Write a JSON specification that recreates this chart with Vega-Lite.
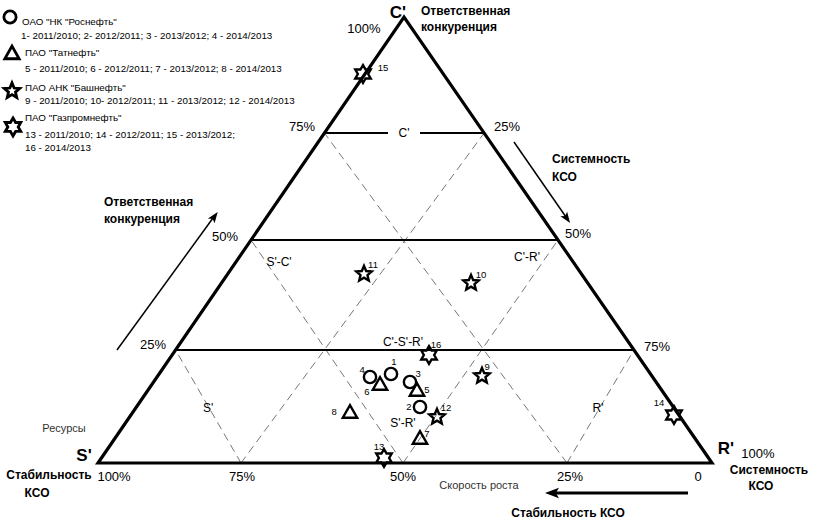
{
"$schema":"https://vega.github.io/schema/vega-lite/v6.json",
"width":817,"height":523,"autosize":{"type":"none"},"padding":0,"background":"white",
"config":{"view":{"stroke":null},"text":{"font":"Liberation Sans","color":"black"}},
"datasets":{
"tri":[{"x":0.5,"y":0,"o":0},{"x":1,"y":0,"o":1},{"x":0.4984,"y":1,"o":2},{"x":0,"y":0,"o":3},{"x":0.5,"y":0,"o":4}],
"hlines":[{"x":0.1263,"y":0.2534,"x2":0.8729,"y2":0.2534},{"x":0.2492,"y":0.5,"x2":0.7492,"y2":0.5},{"x":0.3688,"y":0.7399,"x2":0.4723,"y2":0.7399},{"x":0.5244,"y":0.7399,"x2":0.6289,"y2":0.7399}],
"dashed":[{"x":0.2329,"y":0,"x2":0.6289,"y2":0.7399},{"x":0.4967,"y":0,"x2":0.7492,"y2":0.5},{"x":0.7638,"y":0,"x2":0.8729,"y2":0.2534},{"x":0.7638,"y":0,"x2":0.3688,"y2":0.7399},{"x":0.4967,"y":0,"x2":0.2492,"y2":0.5},{"x":0.2329,"y":0,"x2":0.1263,"y2":0.2534}],
"thinArrows":[{"x":0.0309,"y":0.2534,"x2":0.1873,"y2":0.5493},{"x":0.6775,"y":0.7197,"x2":0.7622,"y2":0.5516}],
"thickArrow":[{"x":0.9609,"y":-0.0673,"x2":0.7459,"y2":-0.0673}],
"headL":[{"x":0.1897,"y":0.5527}],
"headR":[{"x":0.7637,"y":0.5482}],
"headB":[{"x":0.7394,"y":-0.0673}],
"pts":[
{"n":"1","c":"ОАО \"НК \"Роснефть\"","x":0.4772,"y":0.1996,"lx":0.4821,"ly":0.2265},
{"n":"2","c":"ОАО \"НК \"Роснефть\"","x":0.5244,"y":0.1256,"lx":0.5065,"ly":0.1256},
{"n":"3","c":"ОАО \"НК \"Роснефть\"","x":0.5081,"y":0.1816,"lx":0.5212,"ly":0.1996},
{"n":"4","c":"ОАО \"НК \"Роснефть\"","x":0.4430,"y":0.1928,"lx":0.4300,"ly":0.2085},
{"n":"5","c":"ПАО \"Татнефть\"","x":0.5195,"y":0.1637,"lx":0.5358,"ly":0.1637},
{"n":"6","c":"ПАО \"Татнефть\"","x":0.4593,"y":0.1771,"lx":0.4381,"ly":0.1592},
{"n":"7","c":"ПАО \"Татнефть\"","x":0.5244,"y":0.0561,"lx":0.5358,"ly":0.0650},
{"n":"8","c":"ПАО \"Татнефть\"","x":0.4104,"y":0.1143,"lx":0.3844,"ly":0.1143},
{"n":"9","c":"ПАО АНК \"Башнефть\"","x":0.6254,"y":0.1951,"lx":0.6336,"ly":0.2152},
{"n":"10","c":"ПАО АНК \"Башнефть\"","x":0.6075,"y":0.4036,"lx":0.6238,"ly":0.4215},
{"n":"11","c":"ПАО АНК \"Башнефть\"","x":0.4332,"y":0.4238,"lx":0.4479,"ly":0.4439},
{"n":"12","c":"ПАО АНК \"Башнефть\"","x":0.5521,"y":0.1031,"lx":0.5668,"ly":0.1233},
{"n":"13","c":"ПАО \"Газпромнефть\"","x":0.4658,"y":0.0112,"lx":0.4577,"ly":0.0359},
{"n":"14","c":"ПАО \"Газпромнефть\"","x":0.9381,"y":0.1076,"lx":0.9137,"ly":0.1345},
{"n":"15","c":"ПАО \"Газпромнефть\"","x":0.4316,"y":0.8722,"lx":0.4642,"ly":0.8857},
{"n":"16","c":"ПАО \"Газпромнефть\"","x":0.5391,"y":0.2422,"lx":0.5505,"ly":0.2646}],
"leg":[
{"c":"ОАО \"НК \"Роснефть\"","x":-0.1433,"y":1.0},
{"c":"ПАО \"Татнефть\"","x":-0.1401,"y":0.9193},
{"c":"ПАО АНК \"Башнефть\"","x":-0.1401,"y":0.8341},
{"c":"ПАО \"Газпромнефть\"","x":-0.1384,"y":0.7534}],
"legText":[
{"t":"ОАО \"НК \"Роснефть\"","x":-0.1238,"y":0.9888},
{"t":"1- 2011/2010; 2- 2012/2011; 3 - 2013/2012; 4 - 2014/2013","x":-0.1254,"y":0.9574},
{"t":"ПАО \"Татнефть\"","x":-0.1189,"y":0.9193},
{"t":"5 - 2011/2010; 6 - 2012/2011; 7 - 2013/2012; 8 - 2014/2013","x":-0.1189,"y":0.8834},
{"t":"ПАО АНК \"Башнефть\"","x":-0.1189,"y":0.8408},
{"t":"9 - 2011/2010; 10- 2012/2011; 11 - 2013/2012; 12 - 2014/2013","x":-0.1189,"y":0.8117},
{"t":"ПАО \"Газпромнефть\"","x":-0.1189,"y":0.7735},
{"t":"13 - 2011/2010; 14 - 2012/2011; 15 - 2013/2012;","x":-0.1189,"y":0.7354},
{"t":"16 - 2014/2013","x":-0.1189,"y":0.7063}],
"ticks":[
{"t":"100%","x":0.4332,"y":0.9731},
{"t":"75%","x":0.3322,"y":0.7534},
{"t":"50%","x":0.2068,"y":0.5067},
{"t":"25%","x":0.0896,"y":0.2646},
{"t":"25%","x":0.6661,"y":0.7534},
{"t":"50%","x":0.7818,"y":0.5135},
{"t":"75%","x":0.9104,"y":0.2601},
{"t":"100%","x":1.0749,"y":0.0202},
{"t":"100%","x":0.0261,"y":-0.0314},
{"t":"75%","x":0.2345,"y":-0.0314},
{"t":"50%","x":0.4967,"y":-0.0314},
{"t":"25%","x":0.7687,"y":-0.0314},
{"t":"0","x":0.9772,"y":-0.0314}],
"vtx":[
{"t":"C'","x":0.4886,"y":1.009},
{"t":"S'","x":-0.0228,"y":0.0157},
{"t":"R'","x":1.0228,"y":0.0314}],
"regions":[
{"t":"C'","x":0.4984,"y":0.7399},
{"t":"S'-C'","x":0.2948,"y":0.4507},
{"t":"C'-R'","x":0.6987,"y":0.4619},
{"t":"C'-S'-R'","x":0.4967,"y":0.2713},
{"t":"S'","x":0.1792,"y":0.1233},
{"t":"S'-R'","x":0.4967,"y":0.0897},
{"t":"R'","x":0.8143,"y":0.1233}],
"boldL":[
{"t":"Ответственная","x":0.5261,"y":1.0135},
{"t":"конкуренция","x":0.5261,"y":0.9776},
{"t":"Ответственная","x":0.0098,"y":0.5852},
{"t":"конкуренция","x":0.0098,"y":0.5471},
{"t":"Системность","x":0.7394,"y":0.6816},
{"t":"КСО","x":0.7394,"y":0.6413}],
"boldC":[
{"t":"Системность","x":1.0928,"y":-0.0157},
{"t":"КСО","x":1.0798,"y":-0.0516},
{"t":"Стабильность","x":-0.0798,"y":-0.0269},
{"t":"КСО","x":-0.0993,"y":-0.0673},
{"t":"Стабильность КСО","x":0.7655,"y":-0.1121}],
"plain":[
{"t":"Ресурсы","x":-0.0554,"y":0.0762},
{"t":"Скорость роста","x":0.6205,"y":-0.0516}]
},
"encoding":{
"x":{"field":"x","type":"quantitative","scale":{"domain":[-0.15961,1.17101],"nice":false,"zero":false},"axis":null},
"y":{"field":"y","type":"quantitative","scale":{"domain":[-0.13453,1.03812],"nice":false,"zero":false},"axis":null}
},
"layer":[
{"data":{"name":"dashed"},"mark":{"type":"rule","stroke":"#777777","strokeWidth":1,"strokeDash":[8,5]},"encoding":{"x2":{"field":"x2"},"y2":{"field":"y2"}}},
{"data":{"name":"hlines"},"mark":{"type":"rule","stroke":"black","strokeWidth":2},"encoding":{"x2":{"field":"x2"},"y2":{"field":"y2"}}},
{"data":{"name":"tri"},"mark":{"type":"line","stroke":"black","strokeWidth":3.2,"strokeJoin":"miter"},"encoding":{"order":{"field":"o","type":"quantitative"}}},
{"data":{"name":"thinArrows"},"mark":{"type":"rule","stroke":"black","strokeWidth":1.5},"encoding":{"x2":{"field":"x2"},"y2":{"field":"y2"}}},
{"data":{"name":"thickArrow"},"mark":{"type":"rule","stroke":"black","strokeWidth":3},"encoding":{"x2":{"field":"x2"},"y2":{"field":"y2"}}},
{"data":{"name":"headL"},"mark":{"type":"point","shape":"M0,-1L0.75,1L0,0.55L-0.75,1Z","filled":true,"color":"black","size":121,"angle":36,"opacity":1}},
{"data":{"name":"headR"},"mark":{"type":"point","shape":"M0,-1L0.75,1L0,0.55L-0.75,1Z","filled":true,"color":"black","size":121,"angle":145,"opacity":1}},
{"data":{"name":"headB"},"mark":{"type":"point","shape":"M0,-1L0.75,1L0,0.55L-0.75,1Z","filled":true,"color":"black","size":196,"angle":270,"opacity":1}},
{"data":{"name":"pts"},"mark":{"type":"point","filled":false,"color":"black","strokeWidth":2.4,"opacity":1},
 "encoding":{
  "shape":{"field":"c","type":"nominal","scale":{"domain":["ОАО \"НК \"Роснефть\"","ПАО \"Татнефть\"","ПАО АНК \"Башнефть\"","ПАО \"Газпромнефть\""],"range":["circle","M-1,0.8L1,0.8L0,-0.95Z","M0,-1L0.265,-0.364L0.951,-0.309L0.428,0.139L0.588,0.809L0,0.45L-0.588,0.809L-0.428,0.139L-0.951,-0.309L-0.265,-0.364Z","M0,-1L0.289,-0.5L0.866,-0.5L0.577,0L0.866,0.5L0.289,0.5L0,1L-0.289,0.5L-0.866,0.5L-0.577,0L-0.866,-0.5L-0.289,-0.5Z"]},"legend":null},
  "size":{"field":"c","type":"ordinal","scale":{"domain":["ОАО \"НК \"Роснефть\"","ПАО \"Татнефть\"","ПАО АНК \"Башнефть\"","ПАО \"Газпромнефть\""],"range":[150,320,290,430]},"legend":null}}},
{"data":{"name":"leg"},"mark":{"type":"point","filled":false,"color":"black","strokeWidth":2.8,"opacity":1},
 "encoding":{
  "shape":{"field":"c","type":"nominal","legend":null},
  "size":{"field":"c","type":"ordinal","legend":null}}},
{"data":{"name":"pts"},"mark":{"type":"text","fontSize":9.5,"align":"center","baseline":"middle"},
 "encoding":{"x":{"field":"lx","type":"quantitative"},"y":{"field":"ly","type":"quantitative"},"text":{"field":"n"}}},
{"data":{"name":"legText"},"mark":{"type":"text","fontSize":9.8,"align":"left","baseline":"middle"},"encoding":{"text":{"field":"t"}}},
{"data":{"name":"ticks"},"mark":{"type":"text","fontSize":13,"align":"center","baseline":"middle"},"encoding":{"text":{"field":"t"}}},
{"data":{"name":"vtx"},"mark":{"type":"text","fontSize":17,"fontWeight":"bold","align":"center","baseline":"middle"},"encoding":{"text":{"field":"t"}}},
{"data":{"name":"regions"},"mark":{"type":"text","fontSize":12,"align":"center","baseline":"middle"},"encoding":{"text":{"field":"t"}}},
{"data":{"name":"boldL"},"mark":{"type":"text","fontSize":12,"fontWeight":"bold","align":"left","baseline":"middle"},"encoding":{"text":{"field":"t"}}},
{"data":{"name":"boldC"},"mark":{"type":"text","fontSize":12,"fontWeight":"bold","align":"center","baseline":"middle"},"encoding":{"text":{"field":"t"}}},
{"data":{"name":"plain"},"mark":{"type":"text","fontSize":11,"align":"center","baseline":"middle","color":"#333333"},"encoding":{"text":{"field":"t"}}}
]
}
